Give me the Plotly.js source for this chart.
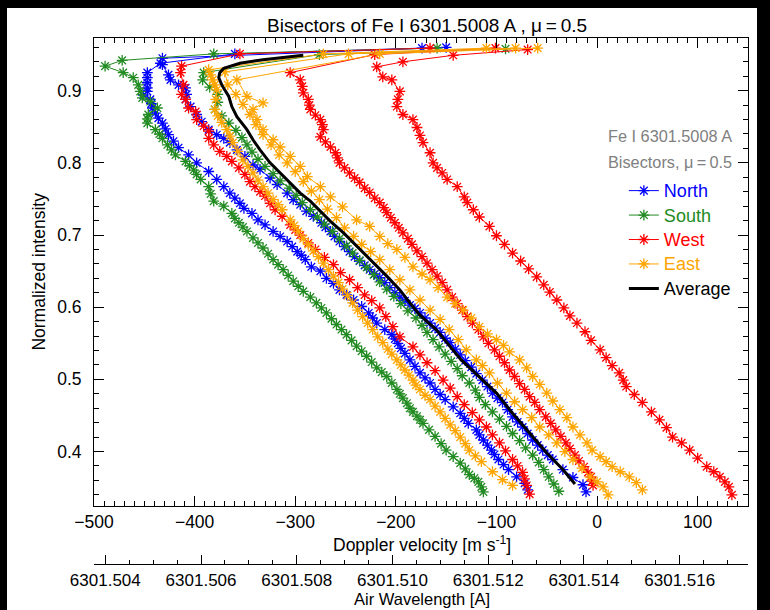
<!DOCTYPE html>
<html><head><meta charset="utf-8">
<script src="https://cdn.plot.ly/plotly-3.0.1.min.js"></script>
<style>
html,body{margin:0;padding:0;background:#000;width:770px;height:610px;overflow:hidden;}
#chart{position:absolute;left:7px;top:8px;width:750px;height:602px;background:#fff;}
</style></head><body><div id="chart"></div>
<script>
// ---------------- data ----------------
// North (blue), curve 1
const north1Int = [0.347,0.356,0.365,0.375,0.382,0.389,0.396,0.402,0.409,0.416,0.423,0.430,0.439,0.446,0.453,0.462,0.472,0.479,0.486,0.495,0.502,0.509,0.518,0.527,0.536,0.543,0.550,0.556,0.562,0.569,0.578,0.585,0.592,0.601,0.610,0.617,0.624,0.633,0.640,0.650,0.656,0.666,0.672,0.677,0.684,0.691,0.698,0.705,0.714,0.721,0.730,0.737,0.744,0.751,0.758,0.767,0.777,0.788,0.800,0.811,0.821,0.830,0.839,0.847,0.855,0.862,0.869,0.876,0.882,0.888,0.894,0.899,0.904,0.911,0.918,0.925,0.938,0.951,0.959];
const north1Vel = [-69,-72,-80,-88,-93,-98,-102,-105,-109,-113,-117,-120,-128,-132,-136,-143,-151,-156,-161,-166,-171,-176,-181,-186,-191,-195,-198,-201,-204,-211,-219,-223,-227,-234,-242,-249,-256,-262,-269,-275,-284,-290,-294,-298,-303,-308,-315,-322,-330,-337,-343,-351,-355,-360,-365,-371,-378,-386,-398,-406,-416,-421,-426,-429,-432,-436,-439,-442,-443,-444,-451,-447,-447,-447,-447,-447,-434,-360,-174];
// North (blue), curve 2
const north2Int = [0.344,0.354,0.364,0.375,0.389,0.395,0.402,0.409,0.416,0.425,0.434,0.441,0.448,0.458,0.468,0.474,0.481,0.490,0.499,0.508,0.517,0.526,0.534,0.542,0.551,0.557,0.565,0.571,0.578,0.585,0.592,0.598,0.603,0.609,0.614,0.620,0.627,0.634,0.641,0.646,0.652,0.658,0.664,0.670,0.677,0.684,0.691,0.698,0.705,0.711,0.717,0.726,0.733,0.742,0.749,0.758,0.770,0.779,0.791,0.797,0.809,0.818,0.828,0.834,0.839,0.846,0.857,0.867,0.878,0.888,0.895,0.904,0.908,0.915,0.922,0.936,0.945,0.960];
const north2Vel = [-11,-14,-24,-34,-44,-49,-54,-59,-64,-69,-74,-79,-84,-89,-94,-99,-104,-109,-114,-120,-125,-131,-136,-141,-146,-151,-156,-161,-166,-171,-176,-181,-186,-191,-196,-201,-206,-211,-216,-221,-226,-231,-236,-241,-246,-251,-256,-261,-265,-270,-274,-282,-289,-295,-302,-308,-318,-325,-335,-342,-350,-358,-365,-371,-378,-386,-393,-398,-404,-409,-408,-409,-416,-424,-426,-432,-432,-150];
// South (green), curve 1
const south1Int = [0.344,0.351,0.358,0.363,0.368,0.376,0.384,0.393,0.402,0.411,0.421,0.430,0.439,0.444,0.449,0.455,0.460,0.467,0.474,0.480,0.486,0.495,0.504,0.510,0.516,0.524,0.532,0.539,0.546,0.554,0.562,0.569,0.576,0.584,0.592,0.599,0.606,0.614,0.622,0.629,0.636,0.644,0.652,0.659,0.666,0.674,0.682,0.689,0.696,0.705,0.711,0.717,0.723,0.730,0.740,0.747,0.757,0.767,0.777,0.784,0.790,0.796,0.802,0.811,0.818,0.825,0.834,0.840,0.846,0.855,0.861,0.867,0.876,0.885,0.890,0.899,0.908,0.918,0.925,0.934,0.942,0.951,0.959];
const south1Vel = [-113,-115,-118,-122,-127,-131,-136,-143,-150,-155,-161,-167,-173,-176,-179,-183,-186,-189,-193,-196,-199,-204,-209,-214,-219,-224,-229,-234,-239,-244,-249,-254,-259,-264,-269,-274,-279,-285,-292,-297,-302,-307,-312,-317,-322,-327,-332,-337,-342,-348,-352,-356,-360,-363,-371,-381,-384,-386,-394,-398,-401,-405,-409,-419,-423,-427,-432,-435,-439,-447,-447,-446,-437,-444,-452,-454,-456,-461,-471,-489,-472,-381,-159];
// South (green), curve 2
const south2Int = [0.345,0.355,0.365,0.375,0.385,0.395,0.405,0.415,0.425,0.435,0.445,0.455,0.465,0.475,0.485,0.495,0.505,0.515,0.525,0.535,0.545,0.555,0.565,0.575,0.585,0.595,0.605,0.615,0.625,0.635,0.645,0.655,0.665,0.675,0.685,0.695,0.705,0.715,0.725,0.735,0.745,0.755,0.765,0.775,0.785,0.795,0.805,0.815,0.825,0.835,0.845,0.855,0.865,0.874,0.884,0.895,0.905,0.915,0.925,0.950,0.958];
const south2Vel = [-38,-43,-48,-53,-58,-64,-71,-77,-84,-90,-97,-104,-111,-117,-121,-127,-134,-139,-145,-151,-157,-163,-169,-174,-180,-188,-195,-202,-209,-216,-222,-229,-236,-243,-249,-256,-263,-271,-278,-285,-293,-299,-306,-315,-322,-330,-337,-343,-348,-353,-359,-366,-373,-380,-377,-377,-385,-392,-391,-276,-91];
// West (red), curve 1
const west1Int = [0.341,0.353,0.362,0.371,0.380,0.389,0.401,0.412,0.423,0.434,0.444,0.454,0.465,0.476,0.488,0.499,0.512,0.523,0.534,0.545,0.559,0.573,0.587,0.599,0.609,0.617,0.627,0.638,0.648,0.659,0.669,0.680,0.689,0.700,0.707,0.714,0.726,0.735,0.744,0.754,0.760,0.767,0.774,0.784,0.793,0.802,0.809,0.816,0.825,0.834,0.844,0.851,0.860,0.871,0.876,0.888,0.895,0.908,0.925,0.934,0.951,0.959];
const west1Vel = [-67,-70,-72,-74,-79,-84,-91,-97,-104,-110,-117,-124,-132,-139,-146,-153,-161,-169,-176,-183,-196,-203,-210,-216,-224,-231,-238,-246,-255,-262,-271,-280,-287,-295,-300,-305,-313,-320,-325,-330,-335,-340,-345,-350,-356,-363,-368,-375,-381,-386,-386,-391,-398,-399,-406,-409,-413,-411,-414,-413,-355,-166];
// West (red), curve 2
const west2Int = [0.353,0.359,0.365,0.371,0.379,0.387,0.395,0.404,0.412,0.421,0.430,0.439,0.448,0.458,0.468,0.476,0.486,0.494,0.504,0.513,0.523,0.532,0.541,0.550,0.559,0.569,0.578,0.587,0.596,0.605,0.614,0.624,0.634,0.643,0.652,0.661,0.670,0.678,0.687,0.695,0.703,0.710,0.717,0.724,0.731,0.738,0.745,0.751,0.759,0.765,0.773,0.779,0.786,0.793,0.800,0.807,0.814,0.822,0.829,0.836,0.846,0.853,0.860,0.866,0.874,0.880,0.888,0.897,0.906,0.915,0.925,0.950,0.959];
const west2Vel = [-4,-5,-6,-9,-13,-18,-22,-27,-31,-36,-41,-46,-51,-57,-62,-67,-72,-77,-82,-87,-92,-97,-102,-108,-113,-118,-124,-129,-134,-139,-144,-149,-154,-159,-164,-169,-174,-179,-184,-188,-193,-197,-201,-205,-209,-212,-216,-221,-226,-231,-236,-241,-246,-251,-256,-258,-260,-265,-270,-275,-272,-273,-275,-280,-285,-286,-287,-292,-293,-295,-305,-221,-101];
// West (red), curve 3
const west3Int = [0.340,0.351,0.358,0.365,0.372,0.379,0.391,0.402,0.412,0.420,0.433,0.444,0.455,0.468,0.479,0.490,0.499,0.509,0.519,0.530,0.541,0.554,0.566,0.578,0.588,0.599,0.610,0.621,0.631,0.642,0.653,0.664,0.675,0.687,0.699,0.712,0.725,0.735,0.745,0.753,0.767,0.777,0.786,0.793,0.800,0.814,0.828,0.838,0.849,0.860,0.867,0.878,0.888,0.899,0.915,0.919,0.933,0.940,0.949,0.957];
const west3Vel = [134,131,127,122,116,109,100,92,84,75,69,62,54,45,37,29,26,22,15,9,3,-6,-12,-20,-27,-33,-40,-47,-53,-60,-68,-76,-84,-92,-100,-107,-117,-123,-129,-132,-139,-149,-154,-159,-163,-166,-173,-176,-179,-183,-193,-199,-198,-196,-204,-213,-219,-193,-143,-69];
// East (orange), curve 1
const east1Int = [0.353,0.361,0.372,0.386,0.394,0.402,0.411,0.420,0.429,0.437,0.446,0.455,0.463,0.472,0.478,0.486,0.492,0.499,0.506,0.513,0.520,0.527,0.535,0.542,0.551,0.559,0.569,0.578,0.587,0.596,0.606,0.616,0.625,0.634,0.643,0.652,0.661,0.670,0.678,0.687,0.695,0.705,0.713,0.721,0.735,0.742,0.749,0.758,0.767,0.776,0.786,0.795,0.804,0.816,0.828,0.837,0.846,0.856,0.865,0.874,0.888,0.901,0.908,0.915,0.922,0.929,0.951,0.959];
const east1Vel = [-84,-94,-104,-115,-121,-127,-131,-136,-141,-146,-151,-156,-161,-166,-171,-176,-180,-183,-187,-191,-195,-199,-204,-208,-213,-218,-223,-228,-233,-238,-243,-248,-253,-257,-262,-267,-272,-277,-282,-287,-292,-297,-301,-305,-313,-317,-322,-327,-332,-337,-342,-347,-352,-357,-362,-365,-368,-373,-377,-380,-379,-378,-380,-382,-384,-386,-272,-110];
// East (orange), curve 2
const east2Int = [0.340,0.351,0.358,0.365,0.377,0.389,0.400,0.412,0.423,0.434,0.447,0.458,0.469,0.481,0.495,0.509,0.519,0.527,0.541,0.555,0.569,0.583,0.596,0.610,0.624,0.638,0.652,0.666,0.677,0.687,0.698,0.710,0.724,0.736,0.749,0.761,0.774,0.788,0.800,0.811,0.825,0.839,0.853,0.867,0.881,0.895,0.908,0.926,0.951,0.959];
const east2Vel = [11,6,0,-7,-15,-24,-32,-40,-48,-57,-65,-74,-82,-90,-99,-107,-114,-120,-130,-138,-147,-156,-166,-176,-186,-196,-206,-216,-225,-234,-242,-251,-259,-268,-276,-284,-292,-300,-308,-316,-324,-332,-339,-345,-352,-359,-367,-370,-247,-81];
// East (orange), curve 3
const east3Int = [0.347,0.357,0.365,0.372,0.379,0.386,0.393,0.402,0.412,0.423,0.434,0.447,0.458,0.470,0.481,0.493,0.504,0.516,0.527,0.538,0.547,0.555,0.563,0.573,0.585,0.596,0.605,0.614,0.627,0.638,0.646,0.656,0.669,0.680,0.688,0.698,0.712,0.721,0.739,0.753,0.767,0.781,0.795,0.809,0.822,0.832,0.846,0.860,0.874,0.883,0.892,0.915,0.951,0.959];
const east3Vel = [45,39,32,23,15,9,3,-5,-10,-17,-24,-30,-37,-44,-50,-57,-64,-70,-77,-87,-93,-100,-109,-117,-125,-133,-141,-149,-158,-166,-174,-183,-191,-199,-208,-216,-226,-239,-253,-265,-275,-288,-295,-305,-315,-322,-332,-338,-342,-332,-348,-358,-216,-59];
// Average (black)
const avgInt = [0.355,0.375,0.398,0.425,0.453,0.481,0.504,0.527,0.569,0.589,0.606,0.624,0.643,0.661,0.684,0.703,0.719,0.733,0.747,0.758,0.772,0.786,0.800,0.818,0.832,0.846,0.855,0.864,0.878,0.892,0.901,0.908,0.918,0.925,0.931,0.938,0.943,0.949];
const avgVel = [-22,-34,-50,-67,-84,-100,-117,-135,-160,-176,-186,-196,-209,-222,-239,-252,-265,-275,-285,-295,-305,-315,-325,-335,-342,-348,-353,-358,-363,-366,-370,-373,-376,-375,-371,-355,-332,-292];

const seriesNames = ['North','South','West','East','Average'];
const seriesColors = ['#0000ff','#228b22','#ff0000','#ffa500','#000000'];

// axis / line constants
const X_RANGE = [-500, 150];
const Y_RANGE = [0.325, 0.973];
const LAMBDA_REF = 6301.5008;   // A
const C_LIGHT = 299792458;      // m/s
const VEL_OFFSET = 641;         // m/s, zero of the velocity scale
function wavelength(v){ return LAMBDA_REF * (1 + (v + VEL_OFFSET) / C_LIGHT); }

// ---------------- traces ----------------
function legendLabel(idx){
  return '<span style="color:' + seriesColors[idx] + ';font-size:18px">' + seriesNames[idx] + '</span>';
}
function starTrace(vel, inten, idx, show){
  const c = seriesColors[idx];
  return {
    x: vel, y: inten, type: 'scatter', mode: 'lines+markers',
    line: {color: c, width: 1},
    marker: {symbol: 'asterisk-open', size: 9, color: c, line: {color: c, width: 1.3}},
    name: legendLabel(idx), showlegend: show, hoverinfo: 'skip'
  };
}
const traces = [
  starTrace(north1Vel, north1Int, 0, true),
  starTrace(north2Vel, north2Int, 0, false),
  starTrace(south1Vel, south1Int, 1, true),
  starTrace(south2Vel, south2Int, 1, false),
  starTrace(west1Vel, west1Int, 2, true),
  starTrace(west2Vel, west2Int, 2, false),
  starTrace(west3Vel, west3Int, 2, false),
  starTrace(east1Vel, east1Int, 3, true),
  starTrace(east2Vel, east2Int, 3, false),
  starTrace(east3Vel, east3Int, 3, false),
  {x: avgVel, y: avgInt, type: 'scatter', mode: 'lines',
   line: {color: '#000', width: 3}, name: legendLabel(4), showlegend: true, hoverinfo: 'skip'},
  // carrier for the wavelength axis (no visible marks)
  {x: [wavelength(X_RANGE[0]), wavelength(X_RANGE[1])], y: [null, null], xaxis: 'x2', yaxis: 'y',
   type: 'scatter', mode: 'markers', showlegend: false, hoverinfo: 'skip'}
];

const FONT = '"Liberation Sans", Arial, Helvetica, sans-serif';
const axisCommon = {
  showline: true, linecolor: '#000', linewidth: 1,
  ticks: 'inside', tickcolor: '#000', tickwidth: 1,
  showgrid: false, zeroline: false
};

const layout = {
  width: 750, height: 602,
  paper_bgcolor: '#fff', plot_bgcolor: '#fff',
  margin: {l: 86.5, r: 8.7, t: 30.3, b: 46},
  font: {family: FONT, size: 17, color: '#000'},
  title: {text: 'Bisectors of Fe I 6301.5008 A , μ\u2009=\u20090.5', font: {size: 19, color: '#000'},
          x: 0.5093, xanchor: 'center', xref: 'paper', y: 0.972, yref: 'container', yanchor: 'middle'},
  showlegend: true,
  legend: {x: 0.8102, y: 0.7426, xanchor: 'left', yanchor: 'top', bgcolor: 'rgba(0,0,0,0)',
           borderwidth: 0, font: {size: 16.5, color: '#000'}, traceorder: 'normal', tracegroupgap: 0},
  xaxis: Object.assign({}, axisCommon, {
    range: X_RANGE, anchor: 'y', mirror: 'ticks', ticklen: 10, dtick: 100, tick0: 0,
    minor: {ticks: 'inside', ticklen: 5, dtick: 10, tickcolor: '#000', showgrid: false},
    tickfont: {size: 17.5}, ticklabelstandoff: 0
  }),
  xaxis2: Object.assign({}, axisCommon, {
    overlaying: 'x', anchor: 'free', position: 0, side: 'bottom',
    range: [wavelength(X_RANGE[0]), wavelength(X_RANGE[1])],
    ticklen: 9, dtick: 0.002, tick0: 6301.504, tickformat: '.3f',
    minor: {ticks: 'inside', ticklen: 4.5, dtick: 0.0005, tickcolor: '#000', showgrid: false},
    tickfont: {size: 17}, ticklabelstandoff: 1
  }),
  yaxis: Object.assign({}, axisCommon, {
    domain: [0.1109, 1], range: Y_RANGE, mirror: 'ticks', ticklen: 10, dtick: 0.1, tick0: 0,
    tickformat: '.1f',
    minor: {ticks: 'inside', ticklen: 5, dtick: 0.02, tickcolor: '#000', showgrid: false},
    tickfont: {size: 17.5}, ticklabelstandoff: 8,
    title: {text: 'Normalized intensity', font: {size: 17.5}, standoff: 7}
  }),
  annotations: [
    // axis titles placed as text below the two horizontal axes
    {xref: 'paper', yref: 'paper', x: 0.5017, y: 0.0371, xanchor: 'center', yanchor: 'middle',
     text: 'Doppler velocity [m s<sup>-1</sup>]', showarrow: false, font: {size: 17.5, color: '#000'}},
    {xref: 'paper', yref: 'paper', x: 0.5017, y: -0.0666, xanchor: 'center', yanchor: 'middle',
     text: 'Air Wavelength [A]', showarrow: false, font: {size: 16.5, color: '#000'}},
    // in-plot labels
    {xref: 'paper', yref: 'paper', x: 0.9782, y: 0.8142, xanchor: 'right', yanchor: 'middle',
     text: 'Fe I 6301.5008 A', showarrow: false, font: {size: 16.3, color: '#808080'}},
    {xref: 'paper', yref: 'paper', x: 0.9782, y: 0.7647, xanchor: 'right', yanchor: 'middle',
     text: 'Bisectors, μ\u2009=\u20090.5', showarrow: false, font: {size: 16.3, color: '#808080'}}
  ]
};

Plotly.newPlot('chart', traces, layout, {staticPlot: true, displayModeBar: false});
</script></body></html>
